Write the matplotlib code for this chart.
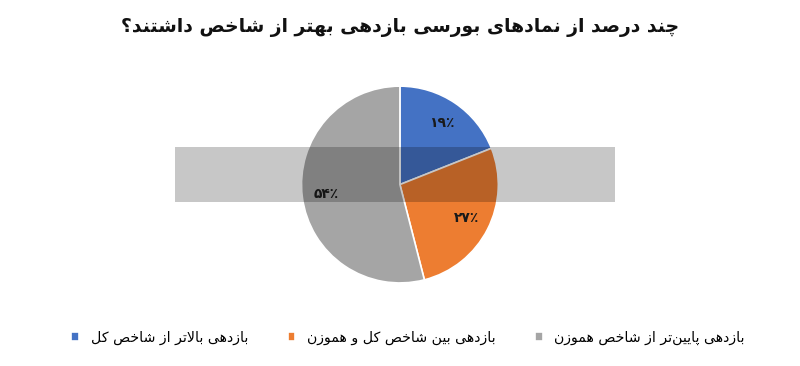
import matplotlib
matplotlib.use("Agg")
import numpy as np
import matplotlib.pyplot as plt
from matplotlib.patches import Rectangle

# data
labels = ["بازدهی بالاتر از شاخص کل",
          "بازدهی بین شاخص کل و هموزن",
          "بازدهی پایین‌تر از شاخص هموزن"]
values = [19, 27, 54]
pct_labels = ["۱۹٪", "۲۷٪", "۵۴٪"]
colors = ["#4472C4", "#ED7D31", "#A5A5A5"]
title = "چند درصد از نمادهای بورسی بازدهی بهتر از شاخص داشتند؟"

# matplotlib has no arabic shaping, so do it by hand with presentation forms
# (isolated, final, initial, medial); two forms = joins only to the right
FORMS = {
    "ا": ("ﺍ", "ﺎ"), "آ": ("ﺁ", "ﺂ"),
    "ب": ("ﺏ", "ﺐ", "ﺑ", "ﺒ"), "پ": ("ﭖ", "ﭗ", "ﭘ", "ﭙ"),
    "ت": ("ﺕ", "ﺖ", "ﺗ", "ﺘ"), "ث": ("ﺙ", "ﺚ", "ﺛ", "ﺜ"),
    "ج": ("ﺝ", "ﺞ", "ﺟ", "ﺠ"), "چ": ("ﭺ", "ﭻ", "ﭼ", "ﭽ"),
    "ح": ("ﺡ", "ﺢ", "ﺣ", "ﺤ"), "خ": ("ﺥ", "ﺦ", "ﺧ", "ﺨ"),
    "د": ("ﺩ", "ﺪ"), "ذ": ("ﺫ", "ﺬ"), "ر": ("ﺭ", "ﺮ"),
    "ز": ("ﺯ", "ﺰ"), "ژ": ("ﮊ", "ﮋ"),
    "س": ("ﺱ", "ﺲ", "ﺳ", "ﺴ"), "ش": ("ﺵ", "ﺶ", "ﺷ", "ﺸ"),
    "ص": ("ﺹ", "ﺺ", "ﺻ", "ﺼ"), "ض": ("ﺽ", "ﺾ", "ﺿ", "ﻀ"),
    "ط": ("ﻁ", "ﻂ", "ﻃ", "ﻄ"), "ظ": ("ﻅ", "ﻆ", "ﻇ", "ﻈ"),
    "ع": ("ﻉ", "ﻊ", "ﻋ", "ﻌ"), "غ": ("ﻍ", "ﻎ", "ﻏ", "ﻐ"),
    "ف": ("ﻑ", "ﻒ", "ﻓ", "ﻔ"), "ق": ("ﻕ", "ﻖ", "ﻗ", "ﻘ"),
    "ک": ("ﮎ", "ﮏ", "ﮐ", "ﮑ"), "گ": ("ﮒ", "ﮓ", "ﮔ", "ﮕ"),
    "ل": ("ﻝ", "ﻞ", "ﻟ", "ﻠ"), "م": ("ﻡ", "ﻢ", "ﻣ", "ﻤ"),
    "ن": ("ﻥ", "ﻦ", "ﻧ", "ﻨ"), "و": ("ﻭ", "ﻮ"),
    "ه": ("ﻩ", "ﻪ", "ﻫ", "ﻬ"), "ی": ("ﯼ", "ﯽ", "ﯾ", "ﯿ"),
}


def shape(text):
    chars = list(text)
    out = []
    i = 0
    prev_joins = False
    while i < len(chars):
        c = chars[i]
        if c not in FORMS:
            out.append(c if c != "\u200c" else "")
            prev_joins = False
            i += 1
            continue
        # lam-alef ligature
        if c == "ل" and i + 1 < len(chars) and chars[i + 1] == "ا":
            out.append("ﻼ" if prev_joins else "ﻻ")
            prev_joins = False
            i += 2
            continue
        f = FORMS[c]
        nxt = chars[i + 1] if i + 1 < len(chars) else ""
        next_ok = len(f) == 4 and nxt in FORMS
        if prev_joins and next_ok:
            out.append(f[3])
        elif prev_joins:
            out.append(f[1])
        elif next_ok:
            out.append(f[2])
        else:
            out.append(f[0])
        prev_joins = next_ok
        i += 1
    return "".join(out)[::-1]


plt.rcParams["font.family"] = ["DejaVu Sans"]

fig = plt.figure(figsize=(8, 3.66), dpi=100)
ax = fig.add_axes([0.3769, 0.2268, 0.246, 0.538])

wedges, _ = ax.pie(values, colors=colors, startangle=90, counterclock=False,
                   wedgeprops=dict(edgecolor="white", linewidth=1.2))
ax.set_xlim(-1, 1)
ax.set_ylim(-1, 1)
ax.set_aspect("equal")

# percent labels on each wedge's middle angle
for w, txt in zip(wedges, pct_labels):
    ang = np.deg2rad((w.theta1 + w.theta2) / 2)
    ax.text(0.76 * np.cos(ang), 0.76 * np.sin(ang), txt, ha="center",
            va="center", fontsize=10, fontweight="bold", color="#1a1a1a")

fig.text(0.5, 0.925, shape(title), ha="center", va="center", fontsize=13.5,
         fontweight="bold", color="#111111")

fig.legend(wedges, [shape(l) for l in labels], loc="center",
           bbox_to_anchor=(0.51, 0.077), ncol=3, frameon=False,
           fontsize=10.2, handlelength=0.55, handleheight=0.55,
           handletextpad=0.8, columnspacing=2.8)

# grey watermark band across the middle
fig.patches.append(Rectangle((175 / 800, 1 - 202 / 366), 440 / 800, 55 / 366,
                             transform=fig.transFigure, facecolor="black",
                             alpha=0.22, edgecolor="none", zorder=5))

fig.savefig("out.png", dpi=100, facecolor="white")
